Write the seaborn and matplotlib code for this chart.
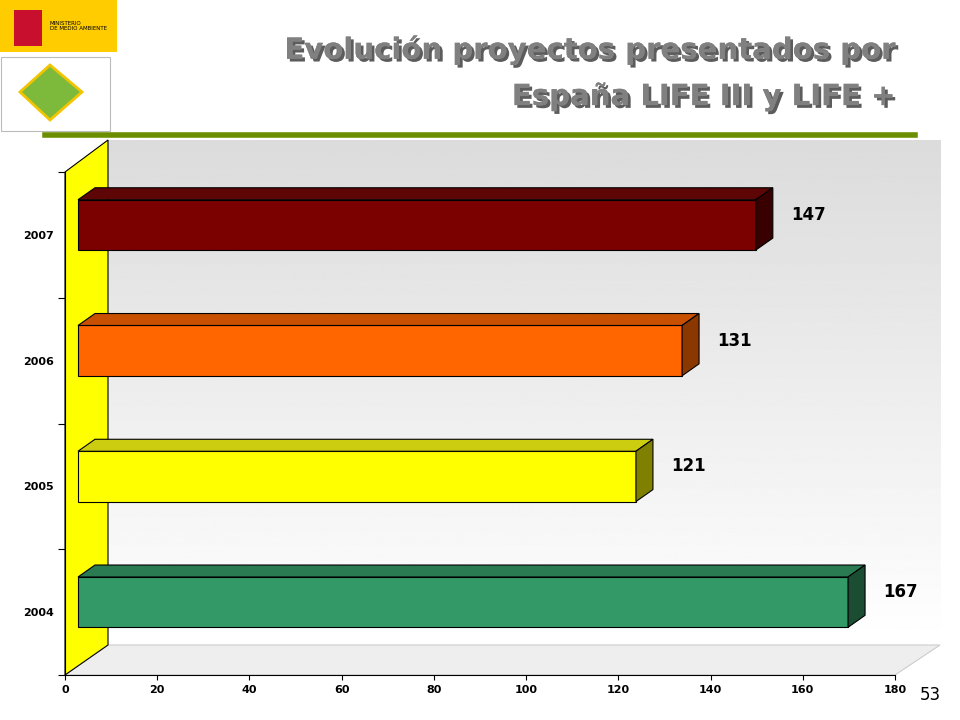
import matplotlib
matplotlib.use("Agg")
import matplotlib.pyplot as plt
import matplotlib.patheffects as pe
from matplotlib.patches import Polygon, Rectangle
import numpy as np
import pandas as pd
import seaborn as sns

YEARS = ["2007", "2006", "2005", "2004"]
VALUES = [147, 131, 121, 167]
FRONT = ["#7B0000", "#FF6600", "#FFFF00", "#339966"]
TOP = ["#5E0505", "#C85000", "#CCCC10", "#2A7A52"]
SIDE = ["#380000", "#8A3800", "#808000", "#1B4D33"]

W, H = 960, 720
fig = plt.figure(figsize=(9.6, 7.2), dpi=100)


def px(x, y):
    return (x / W, 1 - y / H)


# background walls (figure pixel coords)
bg = fig.add_axes([108 / W, 1 - 645 / H, (940 - 108) / W, (645 - 140) / H], zorder=0)
grad = np.linspace(0.86, 1.0, 256).reshape(-1, 1)
bg.imshow(grad, cmap="gray", vmin=0, vmax=1, aspect="auto", extent=[0, 1, 0, 1])
bg.axis("off")
fig.patches.append(Polygon([px(65, 675), px(108, 645), px(940, 645), px(895, 675)],
                           closed=True, transform=fig.transFigure, facecolor="#EEEEEE",
                           edgecolor="#CCCCCC", lw=0.8, zorder=0.5))
fig.patches.append(Polygon([px(65, 172), px(108, 140), px(108, 645), px(65, 675)],
                           closed=True, transform=fig.transFigure, facecolor="#FFFF00",
                           edgecolor="black", lw=0.8, zorder=0.5))

ax = fig.add_axes([65 / W, 1 - 675 / H, 830 / W, (675 - 172) / H], zorder=2)
ax.patch.set_alpha(0)
df = pd.DataFrame({"year": YEARS, "value": VALUES})
sns.barplot(data=df, x="value", y="year", order=YEARS, hue="year", palette=FRONT,
            legend=False, width=0.4, ax=ax, edgecolor="black", linewidth=0.8,
            saturation=1)
ax.set_xlim(0, 180)
ax.set_ylim(3.5, -0.5)

off_x = 13 * 180 / 830        # front-face start offset
dx = 17 * 180 / 830           # depth in x
dy = 12 / 126                 # depth in y (category units)
shift = 10 / 126              # bars drawn slightly above band centre
for i, bar in enumerate(ax.patches):
    bar.set_x(off_x)
    bar.set_y(bar.get_y() - shift)
    x0, x1 = off_x, off_x + bar.get_width()
    yt, yb = bar.get_y(), bar.get_y() + bar.get_height()
    ax.add_patch(Polygon([(x0, yt), (x0 + dx, yt - dy), (x1 + dx, yt - dy), (x1, yt)],
                         closed=True, facecolor=TOP[i], edgecolor="black", lw=0.8))
    ax.add_patch(Polygon([(x1, yt), (x1 + dx, yt - dy), (x1 + dx, yb - dy), (x1, yb)],
                         closed=True, facecolor=SIDE[i], edgecolor="black", lw=0.8))
    ax.text(x1 + dx + 4, (yt + yb) / 2 - shift, str(VALUES[i]), fontsize=12,
            fontweight="bold", va="center", ha="left")

ax.set_xticks(range(0, 181, 20))
ax.set_xticklabels([str(v) for v in range(0, 181, 20)], fontsize=8, fontweight="bold")
ax.set_yticks([-0.5, 0.5, 1.5, 2.5, 3.5], minor=False)
ax.set_yticklabels([])
ax.set_yticks([0.0, 1.0, 2.0, 3.0], minor=True)
ax.set_yticklabels(YEARS, minor=True, fontsize=8, fontweight="bold")
ax.tick_params(axis="y", which="minor", length=0, pad=8)
ax.tick_params(axis="y", which="major", length=5)
ax.set_xlabel("")
ax.set_ylabel("")
for s in ["top", "right"]:
    ax.spines[s].set_visible(False)

# title
for line, y in [("Evolución proyectos presentados por", 50), ("España LIFE III y LIFE +", 97)]:
    fig.text(895 / W, 1 - y / H, line, ha="right", va="center", fontsize=21,
             fontweight="bold", color="#808080",
             path_effects=[pe.withSimplePatchShadow(offset=(2, -2), shadow_rgbFace="#333333", alpha=0.8),
                           pe.Normal()])
fig.lines.append(plt.Line2D([45 / W, 915 / W], [1 - 135 / H] * 2, transform=fig.transFigure,
                            color="#6B8E00", lw=4))

# logos
fig.patches.append(Rectangle(px(0, 52), 117 / W, 52 / H, transform=fig.transFigure,
                             facecolor="#FFCC00", edgecolor="none"))
fig.patches.append(Rectangle(px(14, 46), 28 / W, 36 / H, transform=fig.transFigure,
                             facecolor="#C8102E", edgecolor="none"))
fig.text(50 / W, 1 - 26 / H, "MINISTERIO\nDE MEDIO AMBIENTE", fontsize=4, va="center")
fig.patches.append(Rectangle(px(1, 131), 109 / W, 74 / H, transform=fig.transFigure,
                             facecolor="white", edgecolor="#BBBBBB", lw=0.8))
fig.patches.append(Polygon([px(20, 92), px(50, 65), px(82, 92), px(50, 120)], closed=True,
                           transform=fig.transFigure, facecolor="#7DBA3C", edgecolor="#F2C500", lw=2))
fig.text(930 / W, 1 - 695 / H, "53", fontsize=12, ha="center", va="center")

fig.savefig("out.png", dpi=100)
